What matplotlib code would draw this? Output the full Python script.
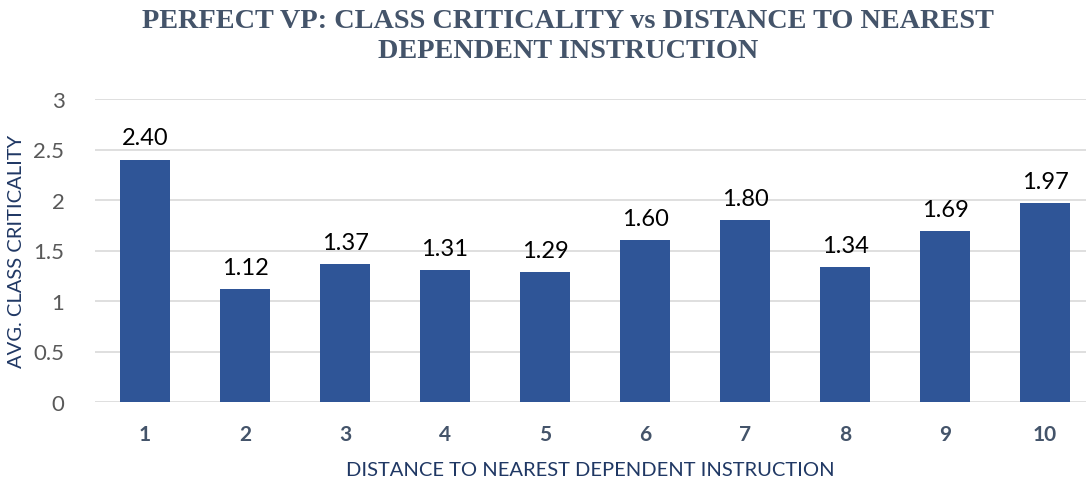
import matplotlib.pyplot as plt
import numpy as np

distances = ["1", "2", "3", "4", "5", "6", "7", "8", "9", "10"]
criticality = [2.40, 1.12, 1.37, 1.31, 1.29, 1.60, 1.80, 1.34, 1.69, 1.97]
yticks = [0, 0.5, 1, 1.5, 2, 2.5, 3]

fig = plt.figure(figsize=(10.86, 4.85), dpi=100)
ax = fig.add_axes([95 / 1086, 82 / 485, 991 / 1086, 303 / 485])

x = np.arange(1, len(distances) + 1)
ax.bar(x, criticality, width=0.5, color="#2F5597", zorder=3)

for xi, v in zip(x, criticality):
    ax.text(xi, v + 0.11, f"{v:.2f}", ha="center", va="bottom",
            fontsize=17, family="Lato", color="black")

ax.set_xlim(0.5, 10.41)
ax.set_ylim(0, 3)
ax.set_yticks(yticks)
ax.set_yticklabels(["0", "0.5", "1", "1.5", "2", "2.5", "3"],
                   fontsize=16, family="Lato", color="#595959")
ax.set_xticks(x)
ax.set_xticklabels(distances, fontsize=15, family="Lato",
                   fontweight="bold", color="#44546A")
ax.tick_params(axis="both", length=0)
ax.tick_params(axis="x", pad=16)
ax.tick_params(axis="y", pad=22)

ax.grid(axis="y", color="#D9D9D9", linewidth=1.2, zorder=0)
for s in ax.spines.values():
    s.set_visible(False)

ax.set_xlabel("DISTANCE TO NEAREST DEPENDENT INSTRUCTION", fontsize=14.5,
              family="Lato", color="#203864", labelpad=12)
ax.set_ylabel("AVG. CLASS CRITICALITY", fontsize=14.5, family="Lato",
              color="#203864", labelpad=6)

fig.text(0.523, 0.925, "PERFECT VP: CLASS CRITICALITY vs DISTANCE TO NEAREST\nDEPENDENT INSTRUCTION",
         ha="center", va="center", fontsize=20.3, family="Liberation Serif",
         fontweight="bold", color="#44546A", linespacing=1.3)

fig.savefig("out.png", dpi=100)
